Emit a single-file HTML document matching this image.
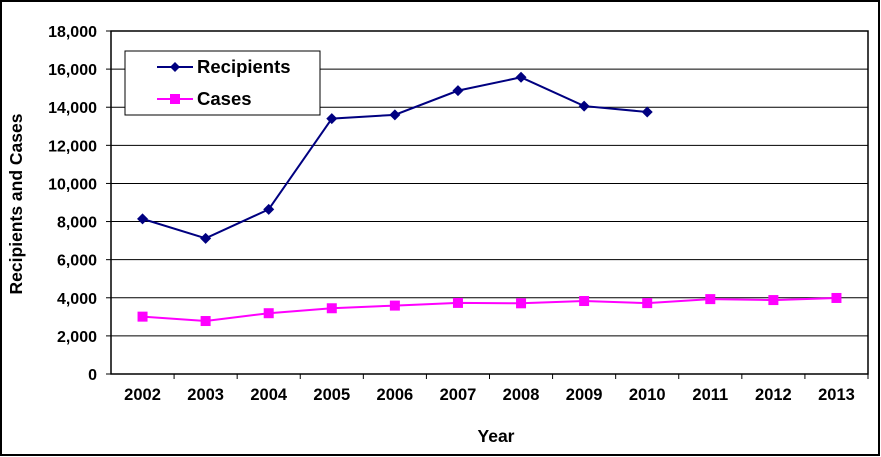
<!DOCTYPE html>
<html><head><meta charset="utf-8"><style>
html,body{margin:0;padding:0;background:#fff;}
svg{display:block;font-family:"Liberation Sans",Arial,sans-serif;font-weight:bold;}
</style></head><body>
<svg id="chart" width="881" height="457" viewBox="0 0 881 457" xmlns="http://www.w3.org/2000/svg">
<rect x="1" y="1" width="878" height="454" fill="#fff" stroke="#000" stroke-width="2"/>
<g id="grid"></g>
<g id="yaxis"></g>
<g id="xaxis"></g>
<g id="series"></g>
<text transform="translate(22,204) rotate(-90)" text-anchor="middle" font-size="17.5">Recipients and Cases</text>
<text x="496" y="442" text-anchor="middle" font-size="17.5">Year</text>
<g>
<rect x="125" y="51" width="195" height="64" fill="#fff" stroke="#000" stroke-width="1"/>
<g>
<line x1="157" y1="67" x2="193" y2="67" stroke="#000080" stroke-width="2"/>
<path d="M175 62 L180 67 L175 72 L170 67 Z" fill="#000080"/>
<text x="197" y="73" font-size="18.5">Recipients</text></g>
<g>
<line x1="157" y1="99" x2="193" y2="99" stroke="#ff00ff" stroke-width="2"/>
<rect x="170" y="94" width="10" height="10" fill="#ff00ff"/>
<text x="197" y="105" font-size="18.5">Cases</text></g>
</g>
</svg>
<script>
const years = ["2002","2003","2004","2005","2006","2007","2008","2009","2010","2011","2012","2013"];
const recipients = [8140,7120,8640,13400,13600,14870,15570,14060,13750,null,null,null];
const cases = [3010,2780,3190,3450,3590,3730,3710,3830,3720,3930,3880,3990];
const yTicks = [0,2000,4000,6000,8000,10000,12000,14000,16000,18000];
const yTickLabels = ["0","2,000","4,000","6,000","8,000","10,000","12,000","14,000","16,000","18,000"];

const NS="http://www.w3.org/2000/svg";
const L=111,R=868,T=31,B=374,YMAX=18000;
const bw=(R-L)/years.length;
function x(i){return L+bw*(i+0.5);}
function y(v){return B-(v/YMAX)*(B-T);}
function mk(tag,attrs,parent){const e=document.createElementNS(NS,tag);for(const k in attrs)e.setAttribute(k,attrs[k]);parent.appendChild(e);return e;}
const grid=document.getElementById('grid'),ya=document.getElementById('yaxis'),xa=document.getElementById('xaxis'),sg=document.getElementById('series');
yTicks.forEach((t,i)=>{
  if(t>0){const g=mk('line',{x1:L,x2:R,y1:y(t),y2:y(t),stroke:'#000','stroke-width':1},grid);
  
  }
  const tk=mk('line',{x1:L-5,x2:L,y1:y(t),y2:y(t),stroke:'#000','stroke-width':1},ya);
  
  
  const lb=mk('text',{x:L-14,y:y(t)+6,'text-anchor':'end','font-size':16},ya);
  lb.textContent=yTickLabels[i];
  
  
});
const frame=mk('rect',{x:L,y:T,width:R-L,height:B-T,fill:'none',stroke:'#000','stroke-width':1.5},grid);


years.forEach((yr,i)=>{
  const tx=L+bw*(i+1);
  const tk=mk('line',{x1:tx,x2:tx,y1:B,y2:B+5,stroke:'#000','stroke-width':1},xa);
  
  
  const lb=mk('text',{x:x(i),y:B+26,'text-anchor':'middle','font-size':16.5},xa);
  lb.textContent=yr;
  
  
});
function drawLine(vals,color,name,marker){
  const pts=[];vals.forEach((v,i)=>{if(v!=null)pts.push([x(i),y(v)]);});
  const pl=mk('polyline',{points:pts.map(p=>p.join(',')).join(' '),fill:'none',stroke:color,'stroke-width':2},sg);
  
  
  pts.forEach(p=>{
    let m;
    if(marker==='diamond')m=mk('path',{d:`M${p[0]} ${p[1]-5.5}L${p[0]+5.5} ${p[1]}L${p[0]} ${p[1]+5.5}L${p[0]-5.5} ${p[1]}Z`,fill:color},sg);
    else m=mk('rect',{x:p[0]-5,y:p[1]-5,width:10,height:10,fill:color},sg);
    
    
  });
}
drawLine(recipients,'#000080','recipients','diamond');
drawLine(cases,'#ff00ff','cases','square');
</script>
</body></html>
